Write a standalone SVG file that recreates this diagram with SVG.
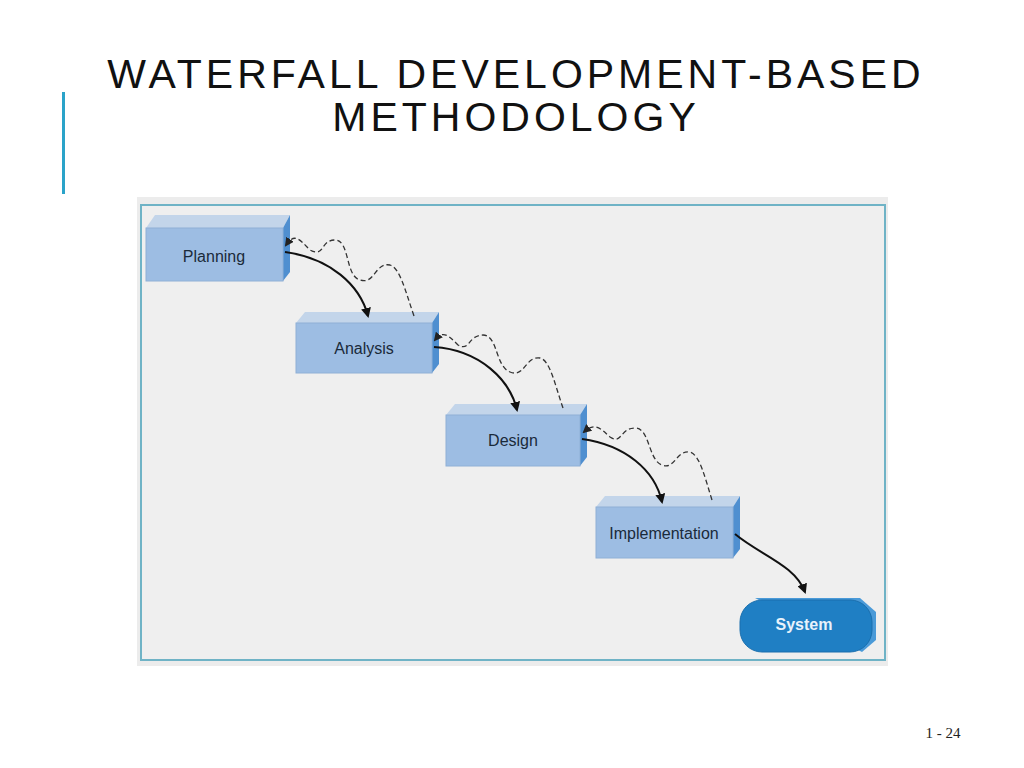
<svg xmlns="http://www.w3.org/2000/svg" width="1024" height="768" viewBox="0 0 1024 768">
<style>
.t{font-family:"Liberation Sans",Arial,sans-serif}
.front{fill:#9dbde3;stroke:#8fb0d6;stroke-width:1}
.top{fill:#c3d5ea}
.side{fill:#4f8fd0}
.lbl{font-size:16px;fill:#1a2a3a;text-anchor:middle}
.solid{fill:none;stroke:#111;stroke-width:2;marker-end:url(#ah)}
.dash{fill:none;stroke:#333;stroke-width:1.3;stroke-dasharray:5 3;marker-end:url(#ah2)}
</style>
<defs>
<marker id="ah" markerWidth="10" markerHeight="10" refX="8" refY="5" orient="auto" markerUnits="userSpaceOnUse"><path d="M0,0 L10,5 L0,10 z" fill="#111"/></marker>
<marker id="ah2" markerWidth="9" markerHeight="9" refX="7" refY="4.5" orient="auto" markerUnits="userSpaceOnUse"><path d="M0,0 L9,4.5 L0,9 z" fill="#222"/></marker>
</defs>
<rect width="1024" height="768" fill="#fff"/>
<text class="t" x="516" y="88" font-size="41" letter-spacing="4" text-anchor="middle" fill="#111">WATERFALL DEVELOPMENT-BASED</text>
<text class="t" x="516" y="131" font-size="41" letter-spacing="4" text-anchor="middle" fill="#111">METHODOLOGY</text>
<rect x="62" y="92" width="3" height="102" fill="#2aa3c9"/>
<rect x="137" y="197" width="751" height="469" fill="#ececec"/>
<rect x="141" y="205" width="744" height="455" fill="#efefef" stroke="#6fb3c6" stroke-width="2"/>
<g id="planning">
<polygon class="top" points="146,228 155,215 290,215 283,228"/>
<polygon class="side" points="283,228 290,215 290,272 283,281"/>
<rect class="front" x="146" y="228" width="137" height="53"/>
<text class="t lbl" x="214" y="262">Planning</text>
</g>
<g id="analysis">
<polygon class="top" points="296,323 305,312 439,312 432,323"/>
<polygon class="side" points="432,323 439,312 439,364 432,373"/>
<rect class="front" x="296" y="323" width="136" height="50"/>
<text class="t lbl" x="364" y="354">Analysis</text>
</g>
<g id="design">
<polygon class="top" points="446,415 455,404 587,404 580,415"/>
<polygon class="side" points="580,415 587,404 587,457 580,466"/>
<rect class="front" x="446" y="415" width="134" height="51"/>
<text class="t lbl" x="513" y="446">Design</text>
</g>
<g id="implementation">
<polygon class="top" points="596,507 605,496 740,496 733,507"/>
<polygon class="side" points="733,507 740,496 740,549 733,558"/>
<rect class="front" x="596" y="507" width="137" height="51"/>
<text class="t lbl" x="664" y="539">Implementation</text>
</g>
<g id="system">
<path d="M755,598 L860,598 L876,612 L876,640 L862,652 Z" fill="#4a9ad8"/>
<rect x="740" y="600" width="132" height="52" rx="22" fill="#1f7fc4" stroke="#1a6fae"/>
<text class="t" x="804" y="630" font-size="16" font-weight="bold" fill="#e8f2fb" text-anchor="middle">System</text>
</g>
<g id="connectors">
<path class="solid" d="M285,252 C330,258 360,285 368,316"/>
<path class="solid" d="M434,347 C480,350 510,380 517,410"/>
<path class="solid" d="M582,439 C625,445 655,470 662,502"/>
<path class="solid" d="M735,534 C760,555 795,565 805,592"/>
<path class="dash" d="M414,316 C405,290 400,268 390,265 C375,262 375,285 360,280 C345,276 350,240 335,240 C320,240 325,258 310,250 C300,240 295,232 286,245"/>
<path class="dash" d="M563,408 C555,385 550,360 540,358 C525,356 525,378 510,372 C495,366 498,335 483,335 C468,335 470,352 458,345 C448,335 443,330 435,340"/>
<path class="dash" d="M712,500 C705,478 700,455 690,452 C676,450 675,470 662,465 C648,460 650,428 635,428 C620,428 622,445 610,437 C600,428 595,422 584,432"/>
</g>
<text x="943" y="738" font-family="Liberation Serif,serif" font-size="15" fill="#222" text-anchor="middle">1 - 24</text>
</svg>
